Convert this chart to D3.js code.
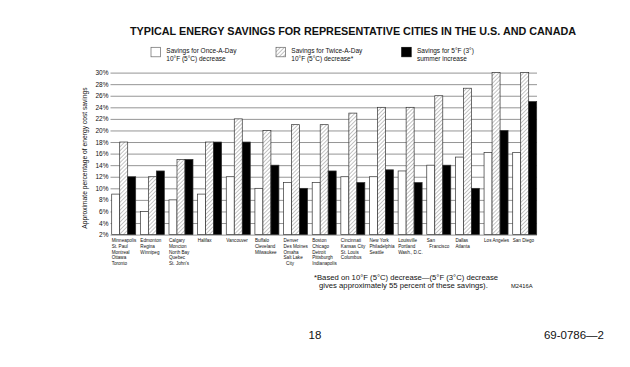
<!DOCTYPE html>
<html><head><meta charset="utf-8">
<script src="https://cdn.jsdelivr.net/npm/d3@7/dist/d3.min.js"></script>
<style>body{margin:0;background:#fff}svg{display:block}text{font-family:Arial,"Liberation Sans",sans-serif;fill:#111}</style>
</head><body><div id="chart"></div>
<script>
const cities = [
  ["Minneapolis","St. Paul","Montreal","Ottawa","Toronto"],
  ["Edmonton","Regina","Winnipeg"],
  ["Calgary","Moncton","North Bay","Quebec","St. John's"],
  ["Halifax"],
  ["Vancouver"],
  ["Buffalo","Cleveland","Milwaukee"],
  ["Denver","Des Moines","Omaha","Salt Lake","  City"],
  ["Boston","Chicago","Detroit","Pittsburgh","Indianapolis"],
  ["Cincinnati","Kansas City","St. Louis","Columbus"],
  ["New York","Philadelphia","Seattle"],
  ["Louisville","Portland","Wash., D.C."],
  ["San","  Francisco"],
  ["Dallas","Atlanta"],
  ["Los Angeles"],
  ["San Diego"]
];
const onceADay   = [9, 6, 8, 9, 12, 10, 11, 11, 12, 12, 13, 14, 15.4, 16.2, 16.2];
const twiceADay  = [18, 12, 15, 18, 22, 20, 21, 21, 23, 24, 24, 26, 27.3, 30, 30];
const summerInc  = [12, 13, 15, 18, 18, 14, 10, 13, 11, 13.2, 11, 14, 10, 20, 25];
const seriesNames = ["once","twice","summer"];
const yTicks = [2,4,6,8,10,12,14,16,18,20,22,24,26,28,30];
const legendLabels = [
  ["Savings for Once-A-Day","10°F (5°C) decrease"],
  ["Savings for Twice-A-Day","10°F (5°C) decrease*"],
  ["Savings for 5°F (3°)","summer increase"]
];

const W = 630, H = 367;
const svg = d3.select("#chart").append("svg").attr("width", W).attr("height", H);
const defs = svg.append("defs");
const pat = defs.append("pattern").attr("id","hatch").attr("patternUnits","userSpaceOnUse")
  .attr("width",2.8).attr("height",2.8).attr("patternTransform","rotate(45)");
pat.append("rect").attr("width",2.8).attr("height",2.8).attr("fill","#fff");
pat.append("line").attr("x1",0).attr("y1",0).attr("x2",0).attr("y2",2.8)
  .attr("stroke","#555").attr("stroke-width",0.7);

const fills = {once:"#fff", twice:"url(#hatch)", summer:"#000"};

const x0 = d3.scaleBand().domain(d3.range(cities.length)).range([111.7, 536.7])
  .paddingInner(0.162).paddingOuter(0);
const x1 = d3.scaleBand().domain(seriesNames).range([0, x0.bandwidth()]);
const y = d3.scaleLinear().domain([2, 30]).range([234.6, 72.6]);

// title
svg.append("text").attr("x", 353).attr("y", 34.5).attr("text-anchor","middle")
  .attr("font-size", 10.8).attr("font-weight","bold").text("TYPICAL ENERGY SAVINGS FOR REPRESENTATIVE CITIES IN THE U.S. AND CANADA");

// legend
const legX = [151, 276, 401.7];
legendLabels.forEach((lab, i) => {
  const g = svg.append("g").attr("transform", `translate(${legX[i]},47.3)`);
  g.append("rect").attr("width", 9.5).attr("height", 9.5)
    .attr("fill", fills[seriesNames[i]]).attr("stroke", i===2 ? "#000" : "#666").attr("stroke-width", 0.7);
  lab.forEach((t, j) => g.append("text").attr("x", 15.3).attr("y", 6.2 + j*7.4)
    .attr("font-size", 6.5).text(t));
});

// gridlines + axis
const yAxis = d3.axisLeft(y).tickValues(yTicks).tickSize(-(537 - 110.5)).tickPadding(2)
  .tickFormat(d => d + "%");
const ga = svg.append("g").attr("transform","translate(110.5,0)").call(yAxis);
ga.select(".domain").remove();
ga.selectAll(".tick line").attr("stroke","#7a7a7a").attr("stroke-width",0.8);
ga.selectAll(".tick text").attr("font-size",6.5).attr("fill","#222")
  .style("font-family","Arial, 'Liberation Sans', sans-serif");

svg.append("text").attr("transform","translate(87,158) rotate(-90)").attr("text-anchor","middle")
  .attr("font-size", 6.7).text("Approximate percentage of energy cost savings");

// bars
const data = cities.map((c, i) => ({i, vals:[
  {k:"once", v:onceADay[i]}, {k:"twice", v:twiceADay[i]}, {k:"summer", v:summerInc[i]}]}));
const groups = svg.append("g").selectAll("g").data(data).join("g")
  .attr("transform", d => `translate(${x0(d.i)},0)`);
groups.selectAll("rect").data(d => d.vals).join("rect")
  .attr("x", d => x1(d.k)).attr("width", x1.bandwidth())
  .attr("y", d => y(d.v)).attr("height", d => y(2) - y(d.v))
  .attr("fill", d => fills[d.k]).attr("stroke", "#333").attr("stroke-width", 0.7);

// city labels
cities.forEach((lines, i) => {
  const t = svg.append("text").attr("font-size", 4.6).attr("x", x0(i)).attr("y", 242)
    .attr("xml:space","preserve").style("white-space","pre");
  lines.forEach((l, j) => t.append("tspan").attr("x", x0(i)).attr("y", 242 + j*5.8).text(l));
});

// footnote
svg.append("text").attr("x", 314).attr("y", 280).attr("font-size", 7.7)
  .text("*Based on 10°F (5°C) decrease—(5°F (3°C) decrease");
svg.append("text").attr("x", 319).attr("y", 288).attr("font-size", 7.7)
  .text("gives approximately 55 percent of these savings).");
svg.append("text").attr("x", 511).attr("y", 287.6).attr("font-size", 5.8).text("M2416A");

// page footer
svg.append("text").attr("x", 315).attr("y", 339).attr("text-anchor","middle")
  .attr("font-size", 11.5).text("18");
svg.append("text").attr("x", 604).attr("y", 339).attr("text-anchor","end")
  .attr("font-size", 11.5).text("69-0786—2");
</script></body></html>
